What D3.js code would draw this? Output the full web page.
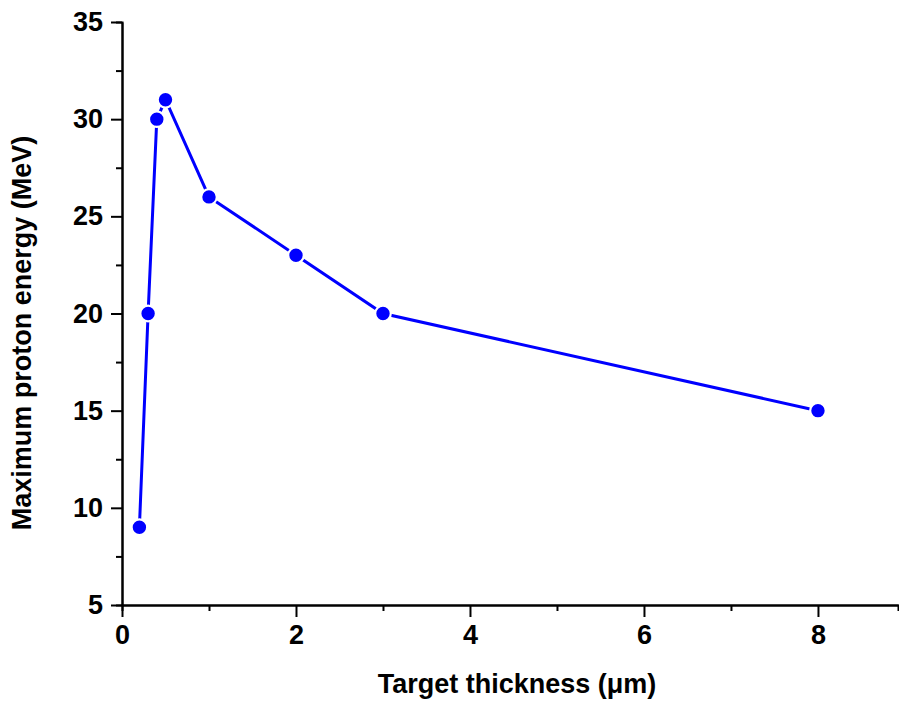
<!DOCTYPE html>
<html>
<head>
<meta charset="utf-8">
<script src="https://cdn.jsdelivr.net/npm/d3@7"></script>
<style>
  body { margin: 0; background: #fff; }
  text { font-family: Arial, "Liberation Sans", sans-serif; font-weight: bold; }
</style>
</head>
<body>
<div id="chart"></div>
<script>
// Data
var thickness = [0.2, 0.3, 0.4, 0.5, 1, 2, 3, 8];
var energy = [9, 20, 30, 31, 26, 23, 20, 15];
var xTicks = [0, 2, 4, 6, 8];
var yTicks = [5, 10, 15, 20, 25, 30, 35];

var svgWidth = 899;
var svgHeight = 701;

var margin = { top: 22, right: 1, bottom: 96, left: 122 };
var chartWidth = svgWidth - margin.left - margin.right;
var chartHeight = svgHeight - margin.top - margin.bottom;

var svg = d3.select("#chart")
    .append("svg")
    .attr("width", svgWidth)
    .attr("height", svgHeight);

var chartGroup = svg.append("g")
    .attr("transform", `translate(${margin.left}, ${margin.top})`);

var xScale = d3.scaleLinear().domain([0, 8.92]).range([0, chartWidth]);
var yScale = d3.scaleLinear().domain([5, 35]).range([chartHeight, 0]);

// minor ticks first
chartGroup.append("g")
    .attr("transform", `translate(0, ${chartHeight})`)
    .call(d3.axisBottom(xScale).tickValues([1, 3, 5, 7]).tickSize(6).tickFormat(""));

chartGroup.append("g")
    .call(d3.axisLeft(yScale).tickValues([7.5, 12.5, 17.5, 22.5, 27.5, 32.5]).tickSize(6).tickFormat(""));

// major axes
var xAxis = chartGroup.append("g")
    .attr("transform", `translate(0, ${chartHeight})`)
    .call(d3.axisBottom(xScale).tickValues(xTicks).tickSize(12).tickPadding(5).tickSizeOuter(0));

var yAxis = chartGroup.append("g")
    .call(d3.axisLeft(yScale).tickValues(yTicks).tickSize(11).tickPadding(8).tickSizeOuter(0));

chartGroup.selectAll(".domain, .tick line")
    .attr("stroke", "#000")
    .attr("stroke-width", 2);

chartGroup.selectAll(".tick text")
    .attr("fill", "#000")
    .style("font-size", "27px");

xAxis.selectAll(".tick text").attr("dy", "0.8em");

// line
var line = d3.line()
    .x((d, i) => xScale(thickness[i]))
    .y(d => yScale(d));

chartGroup.append("path")
    .datum(energy)
    .attr("fill", "none")
    .attr("stroke", "#0000ff")
    .attr("stroke-width", 3)
    .attr("d", line);

chartGroup.selectAll("circle")
    .data(energy)
    .enter()
    .append("circle")
    .attr("cx", (d, i) => xScale(thickness[i]))
    .attr("cy", d => yScale(d))
    .attr("r", 7.8)
    .attr("fill", "#0000ff")
    .attr("stroke", "#fff")
    .attr("stroke-width", 2.2);

// axis labels
svg.append("text")
    .attr("x", 517)
    .attr("y", 693)
    .attr("text-anchor", "middle")
    .style("font-size", "27px")
    .text("Target thickness (\u03bcm)");

svg.append("text")
    .attr("transform", "translate(31, 333) rotate(-90)")
    .attr("text-anchor", "middle")
    .style("font-size", "27px")
    .text("Maximum proton energy (MeV)");
</script>
</body>
</html>
